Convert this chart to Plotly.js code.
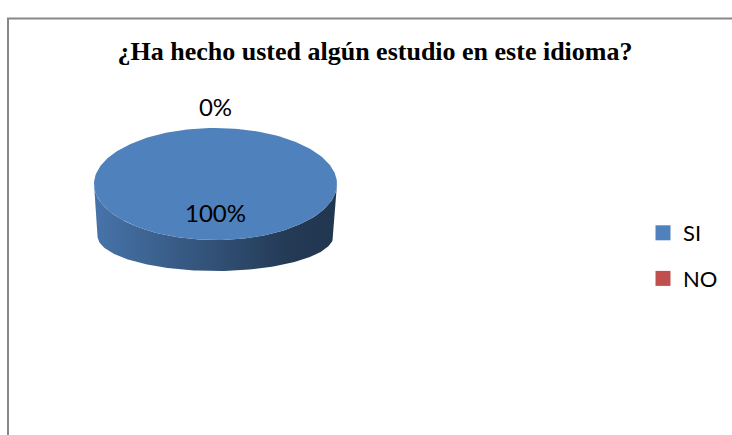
<!DOCTYPE html>
<html>
<head>
<meta charset="utf-8">
<script src="https://cdn.plot.ly/plotly-3.0.1.min.js"></script>
<style>html,body{margin:0;padding:0;background:#fff;}#chart{width:732px;height:435px;}</style>
</head>
<body>
<div id="chart"></div>
<script>
// ---- data ----
const categories = ['SI', 'NO'];
const values = [100, 0];
const titleText = '¿Ha hecho usted algún estudio en este idioma?';

// ---- styles / geometry (pixel frame of the page) ----
const sliceColors = ['#4F81BD', '#C0504D'];
const PIE = {cx: 215.5, cy: 184, rx: 121.5, ry: 56,      // top face
             bcy: 236, brx: 118, bry: 35,                 // bottom rim
             start: 90, inR: 0.57, outR: 1.33};

function arc(cx, cy, rx, ry, a0, a1, n) {
  const xs = [], ys = [];
  for (let i = 0; i <= n; i++) {
    const a = (a0 + (a1 - a0) * i / n) * Math.PI / 180;
    xs.push(cx + rx * Math.cos(a));
    ys.push(cy - ry * Math.sin(a));
  }
  return {x: xs, y: ys};
}
function shade(hex, f) {
  const n = parseInt(hex.slice(1), 16);
  const r = Math.round(((n >> 16) & 255) * f), g = Math.round(((n >> 8) & 255) * f), b = Math.round((n & 255) * f);
  return 'rgb(' + r + ',' + g + ',' + b + ')';
}

const total = values.reduce((a, b) => a + b, 0);
const sideTraces = [], topTraces = [], legendTraces = [];
const lblX = [], lblY = [], lblT = [];
let cum = 0;
values.forEach((v, i) => {
  const f = v / total;
  const a0 = PIE.start - cum * 360;
  const a1 = PIE.start - (cum + f) * 360;
  const mid = (a0 + a1) / 2;
  cum += f;
  // label
  const r = f > 0.1 ? PIE.inR : PIE.outR;
  const m = mid * Math.PI / 180;
  lblX.push(PIE.cx + r * PIE.rx * Math.cos(m));
  lblY.push(PIE.cy - r * PIE.ry * Math.sin(m));
  lblT.push(Math.round(f * 100) + '%');
  // legend entry
  legendTraces.push({type: 'scatter', mode: 'markers', x: [null], y: [null], name: categories[i],
    legendgroup: categories[i], marker: {symbol: 'square', size: 15, color: sliceColors[i]},
    hoverinfo: 'skip'});
  if (f <= 0) return;
  // side (front half only: angles -180..0)
  const lo = Math.max(a1, -180), hi = Math.min(a0, 0);
  if (hi > lo) {
    const t = arc(PIE.cx, PIE.cy, PIE.rx, PIE.ry, lo, hi, 120);
    const b = arc(PIE.cx, PIE.bcy, PIE.brx, PIE.bry, hi, lo, 120);
    const c = sliceColors[i];
    sideTraces.push({type: 'scatter', mode: 'lines', x: t.x.concat(b.x), y: t.y.concat(b.y),
      fill: 'toself', line: {width: 0, color: 'rgba(0,0,0,0)'}, showlegend: false, hoverinfo: 'skip',
      fillgradient: {type: 'horizontal',
        colorscale: [[0, shade(c, 0.9)], [0.5, shade(c, 0.62)], [0.8, shade(c, 0.45)], [1, shade(c, 0.42)]]}});
  }
  // top face
  const p = arc(PIE.cx, PIE.cy, PIE.rx, PIE.ry, a0, a1, 240);
  let xs = p.x, ys = p.y;
  if (f < 0.9999) { xs = [PIE.cx].concat(xs, [PIE.cx]); ys = [PIE.cy].concat(ys, [PIE.cy]); }
  topTraces.push({type: 'scatter', mode: 'lines', x: xs, y: ys, fill: 'toself',
    fillcolor: sliceColors[i], line: {width: 0, color: 'rgba(0,0,0,0)'},
    showlegend: false, hoverinfo: 'skip'});
});

const textTrace = {type: 'scatter', mode: 'text', x: lblX, y: lblY, text: lblT,
  textposition: 'middle center', textfont: {family: 'Lato, sans-serif', size: 24, color: '#000'},
  showlegend: false, hoverinfo: 'skip'};

const layout = {
  width: 732, height: 435,
  margin: {l: 0, r: 0, t: 0, b: 0},
  paper_bgcolor: '#fff', plot_bgcolor: 'rgba(0,0,0,0)',
  font: {family: 'Lato, sans-serif', color: '#000'},
  title: {text: '<b>' + titleText + '</b>', font: {family: 'Liberation Serif, serif', size: 26, color: '#000'},
    x: 375 / 732, xanchor: 'center', xref: 'paper', y: 1 - 50.5 / 435, yanchor: 'middle', yref: 'container'},
  xaxis: {range: [0, 732], visible: false, fixedrange: true},
  yaxis: {range: [435, 0], visible: false, fixedrange: true},
  showlegend: true,
  legend: {x: 643 / 732, xanchor: 'left', y: 1 - 212 / 435, yanchor: 'top',
    font: {family: 'Lato, sans-serif', size: 22, color: '#000'},
    bgcolor: 'rgba(0,0,0,0)', traceorder: 'grouped', tracegroupgap: 14, itemclick: false},
  shapes: [{type: 'rect', xref: 'paper', yref: 'paper', x0: 8 / 732, x1: 1.05, y0: -0.05, y1: 1 - 18.5 / 435,
    line: {color: '#878787', width: 2}, fillcolor: 'rgba(0,0,0,0)'}]
};

Plotly.newPlot('chart', sideTraces.concat(topTraces, [textTrace], legendTraces), layout,
  {displayModeBar: false, staticPlot: true});
</script>
</body>
</html>
